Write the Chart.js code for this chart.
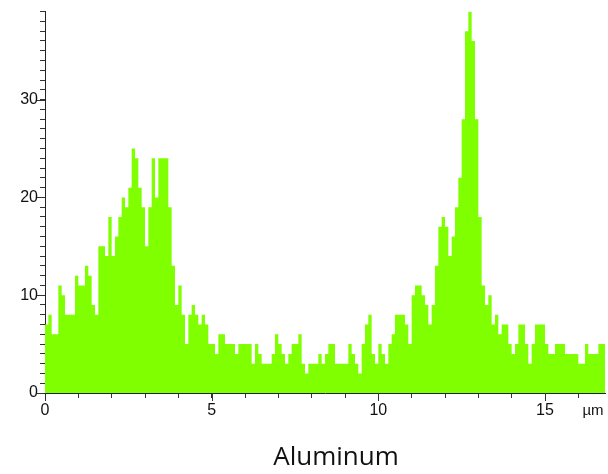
<!DOCTYPE html>
<html lang="en">
<head>
<meta charset="UTF-8">
<title>Aluminum</title>
<script src="https://cdn.jsdelivr.net/npm/chart.js@4.4.0/dist/chart.umd.min.js"></script>
<style>
  html, body { margin: 0; padding: 0; background: #fff; }
  #wrap { width: 608px; height: 474px; position: relative; }
</style>
</head>
<body>
<div id="wrap"><canvas id="myChart"></canvas></div>
<script>
// line scan, counts per 0.1 µm bin
var binWidth = 0.1;
var xMax = 16.8;
var yMax = 39;
var xTickLabels = [0, 5, 10, 15];
var yTickLabels = [0, 10, 20, 30];
var unitLabel = 'µm';
var titleText = 'Aluminum';

var alCounts = [
    7, 8, 6, 6, 11, 10, 8, 8, 8, 12, 11, 11,
    13, 12, 9, 8, 15, 15, 14, 18, 14, 16, 18, 20,
    19, 21, 25, 24, 21, 19, 15, 19, 24, 20, 24, 24,
    24, 19, 13, 9, 11, 8, 5, 8, 9, 8, 7, 8,
    7, 5, 5, 4, 6, 6, 5, 5, 5, 4, 5, 5,
    5, 5, 3, 5, 4, 3, 3, 3, 4, 6, 5, 4,
    3, 4, 5, 5, 6, 3, 2, 3, 3, 3, 4, 3,
    4, 5, 5, 3, 3, 3, 3, 5, 4, 3, 2, 5,
    7, 8, 4, 3, 5, 4, 3, 5, 6, 8, 8, 8,
    7, 5, 10, 11, 11, 10, 9, 7, 9, 13, 17, 18,
    17, 14, 16, 19, 22, 28, 37, 39, 36, 28, 18, 11,
    9, 10, 7, 8, 6, 7, 7, 5, 4, 5, 7, 7,
    5, 3, 5, 7, 7, 7, 5, 4, 4, 5, 5, 5,
    4, 4, 4, 4, 3, 3, 5, 4, 4, 4, 5, 5
];

var tickFont = '"Liberation Sans Narrow", "Liberation Sans", Arial, sans-serif';

var points = alCounts.map(function (v, i) {
    return { x: +(i * binWidth).toFixed(2), y: v };
});
points.push({ x: xMax, y: alCounts[alCounts.length - 1] });

// longer ticks at the labelled values, unit and caption
var axisExtras = {
    id: 'axisExtras',
    afterDraw: function (chart) {
        var ctx = chart.ctx, xs = chart.scales.x, ys = chart.scales.y, area = chart.chartArea;
        ctx.save();
        ctx.strokeStyle = '#333';
        ctx.lineWidth = 1;
        ctx.beginPath();
        yTickLabels.forEach(function (v) {
            var y = Math.round(ys.getPixelForValue(v)) + 0.5;
            ctx.moveTo(area.left - 8, y);
            ctx.lineTo(area.left, y);
        });
        xTickLabels.forEach(function (v) {
            var x = Math.round(xs.getPixelForValue(v)) + 0.5;
            ctx.moveTo(x, area.bottom);
            ctx.lineTo(x, area.bottom + 8);
        });
        ctx.stroke();
        ctx.fillStyle = '#111';
        ctx.textAlign = 'center';
        ctx.textBaseline = 'middle';
        ctx.font = '15px ' + tickFont;
        ctx.fillText(unitLabel, area.right - 12, area.bottom + 18);
        ctx.font = '26px "Open Sans", sans-serif';
        ctx.fillText(titleText, 336, 458);
        ctx.restore();
    }
};

var ctx = document.getElementById('myChart').getContext('2d');
var myChart = new Chart(ctx, {
    type: 'line',
    data: {
        datasets: [{
            label: titleText,
            data: points,
            stepped: true,
            fill: 'origin',
            backgroundColor: '#80ff00',
            borderColor: 'rgba(0,0,0,0)',
            borderWidth: 0,
            pointRadius: 0
        }]
    },
    options: {
        responsive: true,
        maintainAspectRatio: false,
        animation: false,
        layout: { padding: { top: 8, right: 3, left: 0, bottom: 0 } },
        plugins: {
            legend: { display: false },
            tooltip: { enabled: false }
        },
        scales: {
            x: {
                type: 'linear',
                min: 0,
                max: xMax,
                afterFit: function (s) { s.height = 81; },
                grid: { drawOnChartArea: false, drawTicks: true, tickLength: 5, tickColor: '#333' },
                border: { display: true, color: '#222', width: 1 },
                ticks: {
                    stepSize: 1,
                    includeBounds: false,
                    autoSkip: false,
                    maxRotation: 0,
                    padding: 3,
                    color: '#111',
                    font: { family: tickFont, size: 16 },
                    callback: function (v) { return xTickLabels.indexOf(v) >= 0 ? String(v) : ''; }
                }
            },
            y: {
                min: 0,
                max: yMax,
                afterFit: function (s) { s.width = 45; },
                grid: { drawOnChartArea: false, drawTicks: true, tickLength: 5, tickColor: '#333' },
                border: { display: true, color: '#222', width: 1 },
                ticks: {
                    stepSize: 1,
                    autoSkip: false,
                    padding: 2,
                    color: '#111',
                    font: { family: tickFont, size: 16 },
                    callback: function (v) { return yTickLabels.indexOf(v) >= 0 ? String(v) : ''; }
                }
            }
        }
    },
    plugins: [axisExtras]
});
</script>
</body>
</html>
